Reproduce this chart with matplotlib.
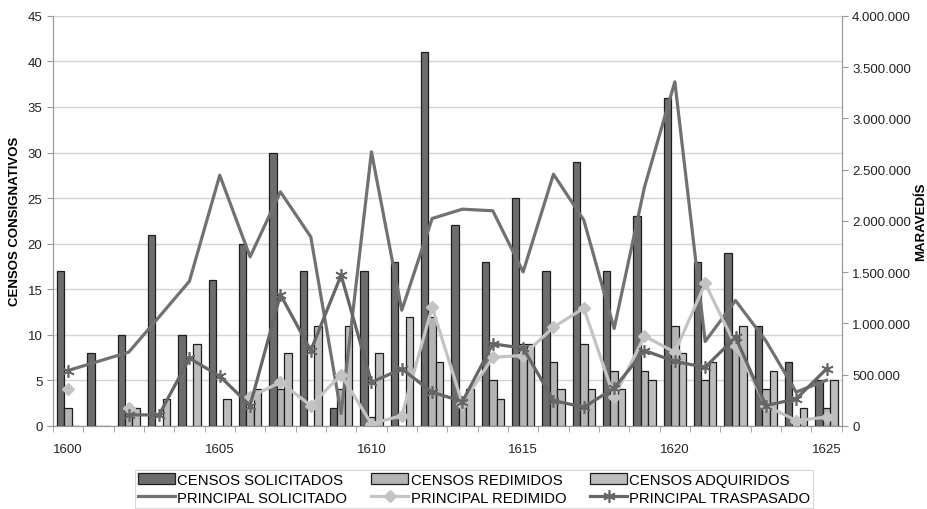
import numpy as np
import matplotlib
matplotlib.use("Agg")
import matplotlib.pyplot as plt
from matplotlib.ticker import FuncFormatter, MultipleLocator

plt.rcParams['font.family'] = ['Liberation Sans', 'DejaVu Sans']

# DATA
years = list(range(1600, 1626))
censos_solicitados = [17, 8, 10, 21, 10, 16, 20, 30, 17, 2, 17, 18, 41, 22, 18, 25, 17, 29, 17, 23, 36, 18, 19, 11, 7, 5]
censos_redimidos = [2, 0, 2, 0, 0, 0, 2, 4, 0, 4, 1, 0, 12, 2, 5, 9, 7, 9, 6, 6, 11, 5, 10, 4, 0, 2]
censos_adquiridos = [0, 0, 2, 3, 9, 3, 4, 8, 11, 11, 8, 12, 7, 4, 3, 9, 4, 4, 4, 5, 8, 7, 11, 6, 2, 5]

nan = np.nan
principal_solicitado = [540000, 630000, 719000, 1063000, 1411000, 2445000, 1649000, 2283000, 1844000, 120000,
                        2673000, 1128000, 2023000, 2114000, 2098000, 1502000, 2455000, 2007000, 950000, 2330000,
                        3356000, 823000, 1223000, 830000, 330000, 445000]
principal_redimido = [364000, nan, 173000, nan, nan, nan, 280000, 426000, 198000, 498000,
                      20000, 100000, 1158000, 215000, 670000, 686000, 963000, 1148000, 280000, 875000,
                      719000, 1389000, 783000, 198000, 52000, 85000]
principal_traspasado = [540000, nan, 107000, 107000, 660000, 485000, 198000, 1280000, 735000, 1470000,
                        426000, 556000, 329000, 237000, 800000, 758000, 247000, 182000, 368000, 735000,
                        628000, 572000, 865000, 198000, 263000, 556000]

# COLORS
c_sol = '#6d6d6d'
c_red = '#b4b4b4'
c_adq = '#bdbdbd'
c_line_sol = '#717171'
c_line_red = '#c3c3c3'
c_line_tras = '#666666'

fig = plt.figure(figsize=(9.28, 5.10), dpi=100)
ax = fig.add_axes([0.057, 0.163, 0.85, 0.804])
ax2 = ax.twinx()

x = np.arange(len(years))
w = 0.245
b1 = ax.bar(x - w, censos_solicitados, w, color=c_sol, edgecolor='#1e1e1e', linewidth=0.9, zorder=3,
            label='CENSOS SOLICITADOS')
b2 = ax.bar(x, censos_redimidos, w, color=c_red, edgecolor='#1e1e1e', linewidth=0.9, zorder=3,
            label='CENSOS REDIMIDOS')
b3 = ax.bar(x + w, censos_adquiridos, w, color=c_adq, edgecolor='#1e1e1e', linewidth=0.9, zorder=3,
            label='CENSOS ADQUIRIDOS')

l1, = ax2.plot(x, principal_solicitado, color=c_line_sol, lw=2.3, label='PRINCIPAL SOLICITADO')
l2, = ax2.plot(x, principal_redimido, color=c_line_red, lw=2.3, marker='D', ms=6,
               markeredgecolor=c_line_red, label='PRINCIPAL REDIMIDO')
l3, = ax2.plot(x, principal_traspasado, color=c_line_tras, lw=2.3, marker=(6, 2, 0), ms=9,
               markeredgewidth=1.2, markeredgecolor=c_line_tras, label='PRINCIPAL TRASPASADO')

ax.set_xlim(-0.5, len(years) - 0.5)
ax.set_ylim(0, 45)
ax2.set_ylim(0, 4000000)
ax.yaxis.set_major_locator(MultipleLocator(5))
ax2.yaxis.set_major_locator(MultipleLocator(500000))
ax2.yaxis.set_major_formatter(FuncFormatter(lambda v, p: f"{int(v):,}".replace(',', '.')))

ax.set_xticks(x[::5])
ax.set_xticklabels([str(y) for y in years[::5]])
ax.set_xticks(np.arange(-0.5, len(years), 1.0), minor=True)
ax.tick_params(axis='x', which='major', length=0, pad=12, labelsize=9.5, colors='#222222')
ax.tick_params(axis='x', which='minor', length=4, color='#999999', direction='out')
ax.tick_params(axis='y', length=4, color='#999999', labelsize=9.5, labelcolor='#222222')
ax2.tick_params(axis='y', length=4, color='#999999', labelsize=9.5, labelcolor='#222222')

ax.grid(axis='y', color='#d4d4d4', linewidth=1.0, zorder=0)
ax.set_axisbelow(True)
for a in (ax, ax2):
    for s in a.spines.values():
        s.set_color('#999999')
    a.spines['top'].set_visible(False)

ax.set_ylabel('CENSOS CONSIGNATIVOS', fontsize=9.5, fontweight='bold')
ax.yaxis.set_label_coords(-0.041, 0.5)
ax2.set_ylabel('MARAVEDÍS', fontsize=9.5, fontweight='bold')
ax2.yaxis.set_label_coords(1.093, 0.5)

handles = [b1, l1, b2, l2, b3, l3]
leg = fig.legend(handles=handles, labels=[h.get_label() for h in handles], ncol=3,
                 loc='lower center', bbox_to_anchor=(0.511, 0.0), fontsize=10.7, frameon=True,
                 fancybox=False, edgecolor='#cccccc', columnspacing=1.6, handlelength=2.5,
                 handletextpad=0.15, borderpad=0.2, labelspacing=0.25, borderaxespad=0.1)
leg.get_frame().set_linewidth(0.8)

fig.savefig('out.png', dpi=100)
